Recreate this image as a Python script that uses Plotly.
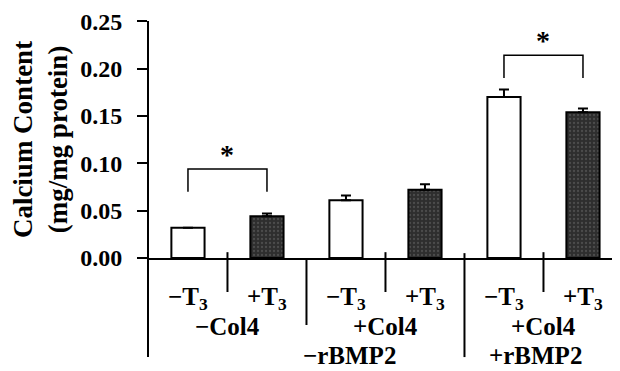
import plotly.graph_objects as go

# ---- data ----
positions = [0, 1, 2, 3, 4, 5]
t3_labels = ["−T<sub>3</sub>", "+T<sub>3</sub>", "−T<sub>3</sub>", "+T<sub>3</sub>", "−T<sub>3</sub>", "+T<sub>3</sub>"]
col4_labels = ["−Col4", "+Col4", "+Col4"]
col4_pos = [0.5, 2.5, 4.5]
bmp_labels = ["−rBMP2", "+rBMP2"]
bmp_pos = [2.05, 4.4]
values = [0.032, 0.044, 0.061, 0.072, 0.170, 0.154]
errors = [0.0, 0.003, 0.005, 0.006, 0.008, 0.004]
fills = ["white", "dark", "white", "dark", "white", "dark"]
sig_pairs = [(0, 1), (4, 5)]
sig_top = [0.094, 0.214]
sig_leg = [0.070, 0.190]
yticks = [0.00, 0.05, 0.10, 0.15, 0.20, 0.25]

XMIN, XMAX = -0.506, 5.456
YMIN, YMAX = 0.0, 0.2503
FONT = "Liberation Serif"
H = 244.0  # plot height in px

def xp(x):
    return (x - XMIN) / (XMAX - XMIN)

def yp(px_below):
    return -px_below / H

fig = go.Figure()

white_x = [p for p, f in zip(positions, fills) if f == "white"]
white_y = [v for v, f in zip(values, fills) if f == "white"]
white_e = [e for e, f in zip(errors, fills) if f == "white"]
dark_x = [p for p, f in zip(positions, fills) if f == "dark"]
dark_y = [v for v, f in zip(values, fills) if f == "dark"]
dark_e = [e for e, f in zip(errors, fills) if f == "dark"]

fig.add_trace(go.Bar(
    x=white_x, y=white_y, width=0.42,
    marker=dict(color="white", line=dict(color="black", width=2)),
    error_y=dict(type="data", symmetric=False, array=white_e, arrayminus=[0]*len(white_e),
                 color="black", thickness=2, width=5),
    showlegend=False,
))
fig.add_trace(go.Bar(
    x=dark_x, y=dark_y, width=0.42,
    marker=dict(color="#383838", line=dict(color="black", width=2),
                pattern=dict(shape=".", fgcolor="#6a6a6a", bgcolor="#2e2e2e", size=4, solidity=0.25)),
    error_y=dict(type="data", symmetric=False, array=dark_e, arrayminus=[0]*len(dark_e),
                 color="black", thickness=2, width=5),
    showlegend=False,
))

# significance brackets
for (a, b), top, leg in zip(sig_pairs, sig_top, sig_leg):
    fig.add_trace(go.Scatter(
        x=[positions[a], positions[a], positions[b], positions[b]],
        y=[leg, top, top, leg], mode="lines",
        line=dict(color="black", width=1.5), showlegend=False, hoverinfo="skip",
    ))
    fig.add_annotation(x=(positions[a] + positions[b]) / 2, y=top, xref="x", yref="y",
                       text="*", showarrow=False, yanchor="bottom", yshift=-3,
                       font=dict(family=FONT, size=28, color="black", weight="bold"))

shapes = []
# y axis line, extended below the baseline
shapes.append(dict(type="line", xref="paper", yref="paper", x0=0, x1=0, y0=1, y1=yp(102),
                   line=dict(color="black", width=2)))
# group dividers below the axis
div_spec = [(0.5, 6, 35), (1.5, 0, 69), (2.5, 6, 35), (3.5, 5, 102), (4.5, 6, 35)]
for xv, up, down in div_spec:
    shapes.append(dict(type="line", xref="paper", yref="paper", x0=xp(xv), x1=xp(xv),
                       y0=up / H, y1=yp(down), line=dict(color="black", width=2)))
fig.update_layout(shapes=shapes)

lab_font = dict(family=FONT, size=25, color="black", weight="bold")
for p, t in zip(positions, t3_labels):
    fig.add_annotation(x=p, y=yp(42), xref="x", yref="paper", text=t, showarrow=False,
                       yanchor="middle", font=lab_font)
for p, t in zip(col4_pos, col4_labels):
    fig.add_annotation(x=p, y=yp(71), xref="x", yref="paper", text=t, showarrow=False,
                       yanchor="middle", font=lab_font)
for p, t in zip(bmp_pos, bmp_labels):
    fig.add_annotation(x=p, y=yp(100), xref="x", yref="paper", text=t, showarrow=False,
                       yanchor="middle", font=lab_font)

# page body has an 8px margin, so the figure is shifted by (8, 8)
fig.update_layout(
    width=612, height=363,
    margin=dict(l=140, r=1, t=6, b=113),
    paper_bgcolor="white", plot_bgcolor="white",
    barmode="overlay",
    xaxis=dict(range=[XMIN, XMAX], showgrid=False, zeroline=False, showticklabels=False,
               ticks="", showline=True, linecolor="black", linewidth=2, fixedrange=True),
    yaxis=dict(range=[YMIN, YMAX], tickvals=yticks, ticktext=[f"{v:.2f}" for v in yticks],
               showgrid=False, zeroline=False, ticks="outside", ticklen=10, tickwidth=2,
               tickcolor="black", showline=False, ticklabelstandoff=10,
               ticklabeloverflow="allow",
               tickfont=dict(family=FONT, size=24, color="black", weight="bold"),
               title=dict(text="Calcium Content<br>(mg/mg protein)", standoff=6,
                          font=dict(family=FONT, size=27, color="black", weight="bold"))),
    font=dict(family=FONT),
)

fig.write_html("out.html")
